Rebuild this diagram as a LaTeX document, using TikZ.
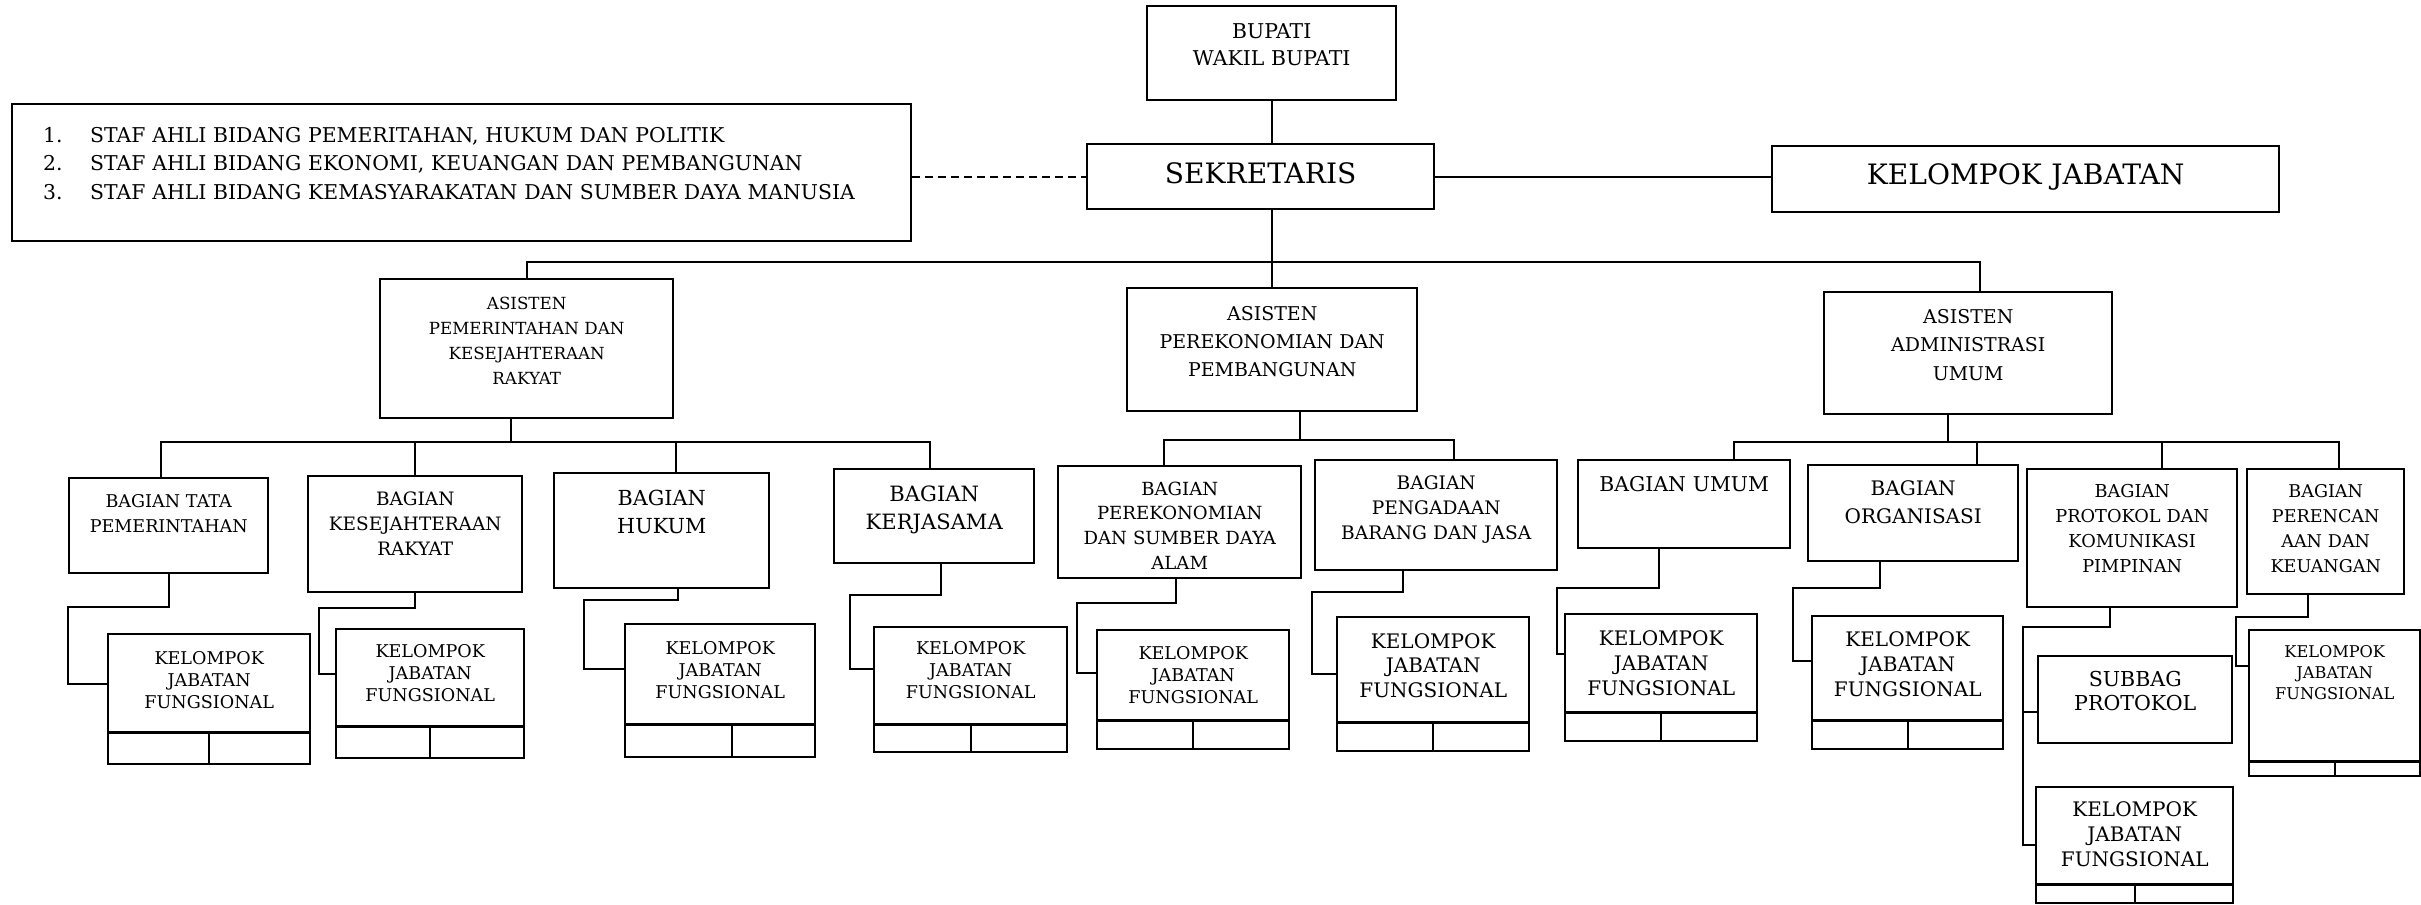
\documentclass[tikz,border=0pt]{standalone}
\usepackage{fontspec}
\setmainfont{DejaVu Serif}

\tikzstyle{boxNode} = [rectangle, draw=black, line width=1.4pt, inner sep=0pt, align=center, anchor=north west]
\tikzstyle{kjfNode} = [boxNode, font=\fontsize{10}{12.5}\selectfont]
\tikzstyle{connLine} = [line width=1.2pt]
\tikzstyle{dashLine} = [line width=1.2pt, dash pattern=on 0.16cm off 0.1cm]

\begin{document}
\begin{tikzpicture}[x=0.02cm, y=-0.02cm]
    \useasboundingbox (0,0) rectangle (2421,904);

    % top level
    \node (bupati)[boxNode, text width=4.98cm, text height=0.64cm, text depth=1.24cm, font=\fontsize{11.6}{15.4}\selectfont] at (1146,5) {BUPATI\\WAKIL BUPATI};
    \node (sekretaris)[boxNode, text width=6.94cm, text height=0.78cm, text depth=0.52cm, font=\fontsize{16}{19}\selectfont] at (1086,143) {SEKRETARIS};
    \node (kjabatan)[boxNode, text width=10.14cm, text height=0.76cm, text depth=0.56cm, font=\fontsize{16}{19}\selectfont] at (1771,145) {KELOMPOK JABATAN};
    \node (staf)[boxNode, align=left, text width=16.74cm, inner xsep=0.62cm, text height=0.76cm, text depth=1.98cm, font=\fontsize{11.6}{16.2}\selectfont] at (11,103)
        {\makebox[0.94cm][l]{1.}STAF AHLI BIDANG PEMERITAHAN, HUKUM DAN POLITIK\\
         \makebox[0.94cm][l]{2.}STAF AHLI BIDANG EKONOMI, KEUANGAN DAN PEMBANGUNAN\\
         \makebox[0.94cm][l]{3.}STAF AHLI BIDANG KEMASYARAKATAN DAN SUMBER DAYA MANUSIA};

    % asisten
    \node (ast1)[boxNode, text width=5.86cm, text height=0.6cm, text depth=2.18cm, font=\fontsize{9.5}{14.2}\selectfont] at (379,278) {ASISTEN\\PEMERINTAHAN DAN\\KESEJAHTERAAN\\RAKYAT};
    \node (ast2)[boxNode, text width=5.8cm, text height=0.64cm, text depth=1.82cm, font=\fontsize{10.8}{15.9}\selectfont] at (1126,287) {ASISTEN\\PEREKONOMIAN DAN\\PEMBANGUNAN};
    \node (ast3)[boxNode, text width=5.76cm, text height=0.62cm, text depth=1.82cm, font=\fontsize{10.8}{16.2}\selectfont] at (1823,291) {ASISTEN\\ADMINISTRASI\\UMUM};

    % bagian
    \node (btp)[boxNode, text width=3.98cm, text height=0.58cm, text depth=1.32cm, font=\fontsize{10}{14.2}\selectfont] at (68,477) {BAGIAN TATA\\PEMERINTAHAN};
    \node (bkr)[boxNode, text width=4.28cm, text height=0.58cm, text depth=1.74cm, font=\fontsize{10.5}{14.2}\selectfont] at (307,475) {BAGIAN\\KESEJAHTERAAN\\RAKYAT};
    \node (hukum)[boxNode, text width=4.3cm, text height=0.65cm, text depth=1.65cm, font=\fontsize{11.8}{15.9}\selectfont] at (553,472) {BAGIAN\\HUKUM};
    \node (kerjasama)[boxNode, text width=4cm, text height=0.64cm, text depth=1.24cm, font=\fontsize{12}{15.9}\selectfont] at (833,468) {BAGIAN\\KERJASAMA};
    \node (bpsda)[boxNode, text width=4.86cm, text height=0.58cm, text depth=1.66cm, font=\fontsize{10.3}{14}\selectfont] at (1057,465) {BAGIAN\\PEREKONOMIAN\\DAN SUMBER DAYA\\ALAM};
    \node (bpbj)[boxNode, text width=4.84cm, text height=0.58cm, text depth=1.62cm, font=\fontsize{10.6}{14.2}\selectfont] at (1314,459) {BAGIAN\\PENGADAAN\\BARANG DAN JASA};
    \node (umum)[boxNode, text width=4.24cm, text height=0.62cm, text depth=1.14cm, font=\fontsize{11.6}{15}\selectfont] at (1577,459) {BAGIAN UMUM};
    \node (org)[boxNode, text width=4.2cm, text height=0.6cm, text depth=1.32cm, font=\fontsize{11.4}{15.9}\selectfont] at (1807,464) {BAGIAN\\ORGANISASI};
    \node (bpkp)[boxNode, text width=4.2cm, text height=0.56cm, text depth=2.2cm, font=\fontsize{10.1}{14.2}\selectfont] at (2026,468) {BAGIAN\\PROTOKOL DAN\\KOMUNIKASI\\PIMPINAN};
    \node (bpkeu)[boxNode, text width=3.14cm, text height=0.56cm, text depth=1.94cm, font=\fontsize{10}{14.2}\selectfont] at (2246,468) {BAGIAN\\PERENCAN\\AAN DAN\\KEUANGAN};

    % kelompok jabatan fungsional
    \node (kjf1)[kjfNode, text width=4.04cm, text height=0.6cm, text depth=2cm] at (107,633) {KELOMPOK\\JABATAN\\FUNGSIONAL};
    \node (kjf2)[kjfNode, text width=3.76cm, text height=0.56cm, text depth=2.02cm] at (335,628) {KELOMPOK\\JABATAN\\FUNGSIONAL};
    \node (kjf3)[kjfNode, text width=3.8cm, text height=0.6cm, text depth=2.06cm] at (624,623) {KELOMPOK\\JABATAN\\FUNGSIONAL};
    \node (kjf4)[kjfNode, text width=3.86cm, text height=0.54cm, text depth=1.96cm] at (873,626) {KELOMPOK\\JABATAN\\FUNGSIONAL};
    \node (kjf5)[kjfNode, text width=3.84cm, text height=0.58cm, text depth=1.8cm] at (1096,629) {KELOMPOK\\JABATAN\\FUNGSIONAL};
    \node (kjf6)[kjfNode, text width=3.84cm, text height=0.62cm, text depth=2.06cm, font=\fontsize{11.4}{14}\selectfont] at (1336,616) {KELOMPOK\\JABATAN\\FUNGSIONAL};
    \node (kjf7)[kjfNode, text width=3.84cm, text height=0.62cm, text depth=1.92cm, font=\fontsize{11.4}{14.2}\selectfont] at (1564,613) {KELOMPOK\\JABATAN\\FUNGSIONAL};
    \node (kjf8)[kjfNode, text width=3.82cm, text height=0.6cm, text depth=2.06cm, font=\fontsize{11.4}{14.2}\selectfont] at (1811,615) {KELOMPOK\\JABATAN\\FUNGSIONAL};
    \node (subbag)[boxNode, text width=3.88cm, text height=0.6cm, text depth=1.14cm, font=\fontsize{11.7}{13.7}\selectfont] at (2037,655) {SUBBAG\\PROTOKOL};
    \node (kjf9)[kjfNode, text width=3.94cm, text height=0.58cm, text depth=1.74cm, font=\fontsize{11.4}{14.2}\selectfont] at (2035,786) {KELOMPOK\\JABATAN\\FUNGSIONAL};
    \node (kjf10)[kjfNode, text width=3.42cm, text height=0.54cm, text depth=2.38cm, font=\fontsize{9.2}{12}\selectfont] at (2248,629) {KELOMPOK\\JABATAN\\FUNGSIONAL};

    % bottom cells of the kjf boxes
    \draw [connLine] ([yshift=0.66cm]kjf1.south west) -- ([yshift=0.66cm]kjf1.south east);
    \draw [connLine] (kjf1.south) -- ([yshift=0.66cm]kjf1.south);
    \draw [connLine] ([yshift=0.66cm]kjf2.south west) -- ([yshift=0.66cm]kjf2.south east);
    \draw [connLine] (kjf2.south) -- ([yshift=0.66cm]kjf2.south);
    \draw [line width=2pt] ([yshift=0.68cm]kjf3.south west) -- ([yshift=0.68cm]kjf3.south east);
    \draw [connLine] ([xshift=0.24cm]kjf3.south) -- ([xshift=0.24cm,yshift=0.68cm]kjf3.south);
    \draw [connLine] ([yshift=0.58cm]kjf4.south west) -- ([yshift=0.58cm]kjf4.south east);
    \draw [connLine] (kjf4.south) -- ([yshift=0.58cm]kjf4.south);
    \draw [connLine] ([yshift=0.6cm]kjf5.south west) -- ([yshift=0.6cm]kjf5.south east);
    \draw [connLine] (kjf5.south) -- ([yshift=0.6cm]kjf5.south);
    \draw [connLine] ([yshift=0.6cm]kjf6.south west) -- ([yshift=0.6cm]kjf6.south east);
    \draw [connLine] (kjf6.south) -- ([yshift=0.6cm]kjf6.south);
    \draw [connLine] ([yshift=0.6cm]kjf7.south west) -- ([yshift=0.6cm]kjf7.south east);
    \draw [connLine] (kjf7.south) -- ([yshift=0.6cm]kjf7.south);
    \draw [connLine] ([yshift=0.6cm]kjf8.south west) -- ([yshift=0.6cm]kjf8.south east);
    \draw [connLine] (kjf8.south) -- ([yshift=0.6cm]kjf8.south);
    \draw [connLine] ([yshift=0.4cm]kjf9.south west) -- ([yshift=0.4cm]kjf9.south east);
    \draw [connLine] (kjf9.south) -- ([yshift=0.4cm]kjf9.south);
    \draw [connLine] ([yshift=0.32cm]kjf10.south west) -- ([yshift=0.32cm]kjf10.south east);
    \draw [connLine] (kjf10.south) -- ([yshift=0.32cm]kjf10.south);

    % top connectors
    \draw [connLine] (bupati.south) -- (bupati.south |- sekretaris.north);
    \draw [dashLine] (staf.east |- sekretaris.west) -- (sekretaris.west);
    \draw [connLine] (sekretaris.east) -- (sekretaris.east -| kjabatan.west);
    \draw [connLine] (bupati.south |- sekretaris.south) -- (bupati.south |- ast2.north);
    \draw [connLine] (ast1.north) |- (1273,262) -| ([xshift=0.24cm]ast3.north);

    % asisten to bagian
    \coordinate (busA) at (511,442);
    \coordinate (busB) at (1300,440);
    \coordinate (busC) at (1948,442);
    \draw [connLine] (busA |- ast1.south) -- (busA);
    \draw [connLine] ([xshift=-0.15cm]btp.north) |- (busA) -| ([xshift=-0.08cm]kerjasama.north);
    \draw [connLine] (bkr.north) |- (busA);
    \draw [connLine] ([xshift=0.29cm]hukum.north) |- (busA);
    \draw [connLine] (busB |- ast2.south) -- (busB);
    \draw [connLine] ([xshift=-0.31cm]bpsda.north) |- (busB) -| ([xshift=0.36cm]bpbj.north);
    \draw [connLine] (busC |- ast3.south) -- (busC);
    \draw [connLine] ([xshift=1cm]umum.north) |- (busC) -| ([xshift=0.27cm]bpkeu.north);
    \draw [connLine] ([xshift=1.28cm]org.north) |- (busC);
    \draw [connLine] ([xshift=0.6cm]bpkp.north) |- (busC);

    % bagian to kelompok jabatan fungsional
    \draw [connLine] (btp.south) |- (68,607) |- ([yshift=0.3cm]kjf1.west);
    \draw [connLine] (bkr.south) |- (319,608) |- ([yshift=0.39cm]kjf2.west);
    \draw [connLine] ([xshift=0.33cm]hukum.south) |- (584,600) |- ([yshift=0.43cm]kjf3.west);
    \draw [connLine] ([xshift=0.14cm]kerjasama.south) |- (850,595) |- ([yshift=0.41cm]kjf4.west);
    \draw [connLine] ([xshift=-0.07cm]bpsda.south) |- (1077,603) |- ([yshift=0.33cm]kjf5.west);
    \draw [connLine] ([xshift=-0.66cm]bpbj.south) |- (1312,592) |- ([yshift=0.2cm]kjf6.west);
    \draw [connLine] ([xshift=-0.5cm]umum.south) |- (1557,588) |- ([yshift=0.47cm]kjf7.west);
    \draw [connLine] ([xshift=-0.66cm]org.south) |- (1793,588) |- ([yshift=0.43cm]kjf8.west);
    \draw [connLine] ([xshift=-0.44cm]bpkp.south) |- (2023,627) |- (kjf9.west);
    \coordinate (spine) at (2023,712);
    \draw [connLine] (spine) -- (spine -| subbag.west);
    \draw [connLine] ([xshift=-0.35cm]bpkeu.south) |- (2236,617) |- ([yshift=0.74cm]kjf10.west);

\end{tikzpicture}
\end{document}
